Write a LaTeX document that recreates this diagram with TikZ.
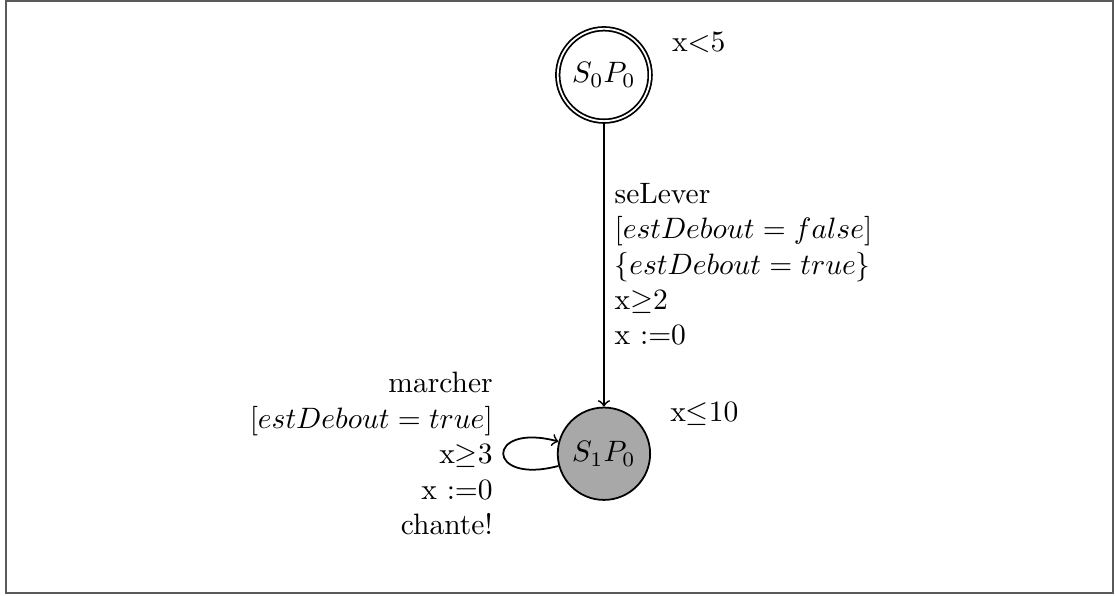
\documentclass[tikz,border=0pt]{standalone}
\usepackage{amsmath}
\usetikzlibrary{positioning,calc}
\definecolor{LocGray}{HTML}{A8A8A8}
\tikzset{
    % Locations of the automaton
    location/.style={
        circle,
        draw=black,
        semithick,
        fill=white,
        minimum size=1.1cm,
        inner sep=1pt
    },
    location init/.style={
        location,
        double,
        double distance=0.6pt
    },
    location active/.style={
        location,
        fill=LocGray
    },
    invariant/.style={
        anchor=west,
        align=left
    },
    trans label/.style={
        align=left
    },
    loop label/.style={
        align=right
    },
    arrow/.style={
        ->,
        semithick
    }
}

\begin{document}
\begin{tikzpicture}
        % Frame and fixed size
        \useasboundingbox (0,0) rectangle (13.28,-7.087);
        \draw[black!65, line width=0.6pt] (0.07,-0.012) rectangle (13.255,-7.063);

        % Locations
        \node[location init] (s0) at (7.193,-0.893) {$S_0P_0$};
        \node[location active, below=3.39cm of s0] (s1) {$S_1P_0$};

        % Invariants
        \node[invariant] (inv0) at (7.88,-0.50) {x$<$5};
        \node[invariant] (inv1) at (7.86,-4.93) {x$\leq$10};

        % Transition
        \draw[arrow] (s0) -- node[trans label, right] {seLever\\
              $[estDebout = false]$\\
              $\{estDebout = true\}$\\
              x$\geq$2\\
              x :=0} (s1);

        % Self loop
        \draw[arrow] (s1) to[loop left] node[loop label, left] {marcher\\
              $[estDebout = true]$\\
              x$\geq$3\\
              x :=0\\
              chante!} (s1);
    \end{tikzpicture}
\end{document}
